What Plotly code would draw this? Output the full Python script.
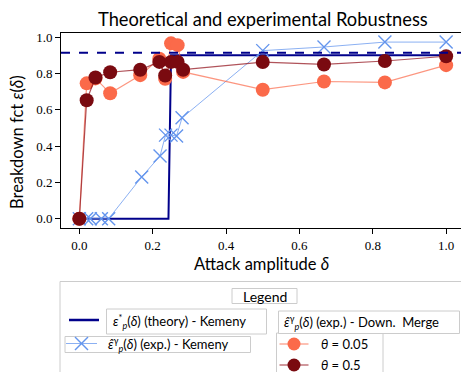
import plotly.graph_objects as go

# ---------------- data ----------------
theory_x = [0.0, 0.243, 0.25, 1.0]
theory_y = [0.0, 0.0, 0.9, 0.9]
asymptote_y = 0.913

kem_x = [0.0, 0.02, 0.03, 0.06, 0.08, 0.17, 0.22, 0.235, 0.25, 0.265, 0.28, 0.5, 0.667, 0.833, 1.0]
kem_y = [0.0, 0.0, 0.0, 0.0, 0.0, 0.23, 0.345, 0.46, 0.46, 0.455, 0.555, 0.925, 0.945, 0.972, 0.972]

dm_x = [0.0, 0.02, 0.044, 0.084, 0.166, 0.218, 0.234, 0.25, 0.268, 0.283, 0.5, 0.667, 0.833, 1.0]
dm005_y = [0.0, 0.745, 0.772, 0.69, 0.79, 0.88, 0.77, 0.965, 0.955, 0.808, 0.71, 0.755, 0.75, 0.845]
dm05_y = [0.0, 0.652, 0.777, 0.806, 0.82, 0.863, 0.788, 0.863, 0.863, 0.82, 0.862, 0.849, 0.868, 0.894]

x_ticks = [0.0, 0.2, 0.4, 0.6, 0.8, 1.0]
y_ticks = [0.0, 0.2, 0.4, 0.6, 0.8, 1.0]

title = "Theoretical and experimental Robustness"
xlabel = "Attack amplitude <i>δ</i>"
ylabel = "Breakdown fct <i>ε</i>(<i>δ</i>)"
leg_title = "Legend"
lab_theory = "<i>ε</i><sup>*</sup><sub><i>p</i></sub>(<i>δ</i>) (theory) - Kemeny"
lab_kem = "<i>ε̂</i><sup>γ</sup><sub><i>p</i></sub>(<i>δ</i>) (exp.) - Kemeny"
lab_dm = "<i>ε̂</i><sup>γ</sup><sub><i>p</i></sub>(<i>δ</i>) (exp.) - Down.  Merge"
lab_t1 = "<i>θ</i> = 0.05"
lab_t2 = "<i>θ</i> = 0.5"

NAVY = "#00008b"
CBLUE = "#6495ed"
LIGHT = "#fb6a4a"
DARK = "#7a0a10"

W, H = 461, 372
ML, MR, MT, MB = 61, 0, 33, 144
PW, PH = W - ML - MR, H - MT - MB

def px(x):
    return (x - ML) / PW

def py(y):
    return (H - MB - y) / PH

SANS = "Lato"
SERIF = "Liberation Serif"

fig = go.Figure()

fig.add_trace(go.Scatter(x=theory_x, y=theory_y, mode="lines",
                         line=dict(color=NAVY, width=2), showlegend=False))
fig.add_trace(go.Scatter(x=kem_x, y=kem_y, mode="lines+markers",
                         line=dict(color="rgba(100,149,237,0.75)", width=1),
                         marker=dict(symbol="x-thin", size=13, line=dict(color=CBLUE, width=1.4)),
                         showlegend=False))
fig.add_trace(go.Scatter(x=dm_x, y=dm005_y, mode="lines+markers",
                         line=dict(color="rgba(251,106,74,0.7)", width=1.2),
                         marker=dict(color=LIGHT, size=14), showlegend=False))
fig.add_trace(go.Scatter(x=dm_x, y=dm05_y, mode="lines+markers",
                         line=dict(color="rgba(150,25,35,0.75)", width=1.2),
                         marker=dict(color=DARK, size=14), showlegend=False))

shapes = []
annotations = []

# asymptote dashed line
shapes.append(dict(type="line", xref="paper", yref="y", x0=0, x1=1,
                   y0=asymptote_y, y1=asymptote_y,
                   line=dict(color=NAVY, width=2, dash="dash"), layer="above"))

def rect(x0, y0, x1, y1, color="#cccccc"):
    shapes.append(dict(type="rect", xref="paper", yref="paper",
                       x0=px(x0), x1=px(x1), y0=py(y0), y1=py(y1),
                       line=dict(color=color, width=1), fillcolor="white", layer="above"))

def text(x, y, s, size=14, anchor="left", font=SANS):
    annotations.append(dict(xref="paper", yref="paper", x=px(x), y=py(y), text=s,
                            showarrow=False, xanchor=anchor, yanchor="middle",
                            font=dict(family=font, size=size, color="black")))

# legend frame
rect(60, 281.5, 480, 390)
rect(232, 288.5, 297, 303.5)
text(264.5, 296, leg_title, anchor="center")

# theory entry
shapes.append(dict(type="line", xref="paper", yref="paper", x0=px(69), x1=px(99),
                   y0=py(320), y1=py(320), line=dict(color=NAVY, width=2.5), layer="above"))
rect(106.5, 309, 266.5, 334)
text(111, 321.5, lab_theory, size=13)

# kemeny exp entry
rect(65, 336.5, 250.5, 352.5)
shapes.append(dict(type="line", xref="paper", yref="paper", x0=px(66), x1=px(97),
                   y0=py(343.5), y1=py(343.5), line=dict(color="rgba(100,149,237,0.75)", width=1), layer="above"))
for (a, b, c, d) in [(75, 337, 88, 350), (75, 350, 88, 337)]:
    shapes.append(dict(type="line", xref="paper", yref="paper", x0=px(a), x1=px(c),
                       y0=py(b), y1=py(d), line=dict(color=CBLUE, width=1.4), layer="above"))
text(106, 344, lab_kem, size=13)

# down merge header + box
rect(276.5, 333, 383, 390)
rect(278.5, 311, 459.5, 333.5)
text(282, 322.5, lab_dm, size=13)

for yy, col, lcol, lab in [(344, LIGHT, "rgba(251,106,74,0.7)", lab_t1),
                            (365, DARK, "rgba(150,25,35,0.75)", lab_t2)]:
    shapes.append(dict(type="line", xref="paper", yref="paper", x0=px(279.5), x1=px(308.5),
                       y0=py(yy), y1=py(yy), line=dict(color=lcol, width=1.2), layer="above"))
    shapes.append(dict(type="circle", xref="paper", yref="paper",
                       x0=px(294 - 6.5), x1=px(294 + 6.5), y0=py(yy - 6.5), y1=py(yy + 6.5),
                       fillcolor=col, line=dict(color=col, width=0), layer="above"))
    text(319, yy, lab, size=13)

# title and axis labels
text(263, 19, title, size=18.3, anchor="center")
text(261.5, 263.5, xlabel, size=16.5, anchor="center")
annotations.append(dict(xref="paper", yref="paper", x=px(17), y=py(142), text=ylabel,
                        showarrow=False, textangle=-90, xanchor="center", yanchor="middle",
                        font=dict(family=SANS, size=16.5, color="black")))

fig.update_layout(
    width=W, height=H,
    margin=dict(l=ML, r=MR, t=MT, b=MB, pad=0),
    plot_bgcolor="white", paper_bgcolor="white",
    shapes=shapes, annotations=annotations,
    showlegend=False,
    xaxis=dict(range=[-0.05, 1.0405], tickvals=x_ticks, ticktext=[f"{v:.1f}" for v in x_ticks],
               showgrid=False, zeroline=False, showline=True, linecolor="black", linewidth=1,
               mirror=True, ticks="outside", ticklen=5, tickwidth=1, tickcolor="black",
               tickfont=dict(family=SERIF, size=13, color="black")),
    yaxis=dict(range=[-0.0512, 1.022], tickvals=y_ticks, ticktext=[f"{v:.1f}" for v in y_ticks],
               showgrid=False, zeroline=False, showline=True, linecolor="black", linewidth=1,
               mirror=True, ticks="outside", ticklen=5, tickwidth=1, tickcolor="black",
               tickfont=dict(family=SERIF, size=13, color="black")),
)

fig.write_html("out.html")
